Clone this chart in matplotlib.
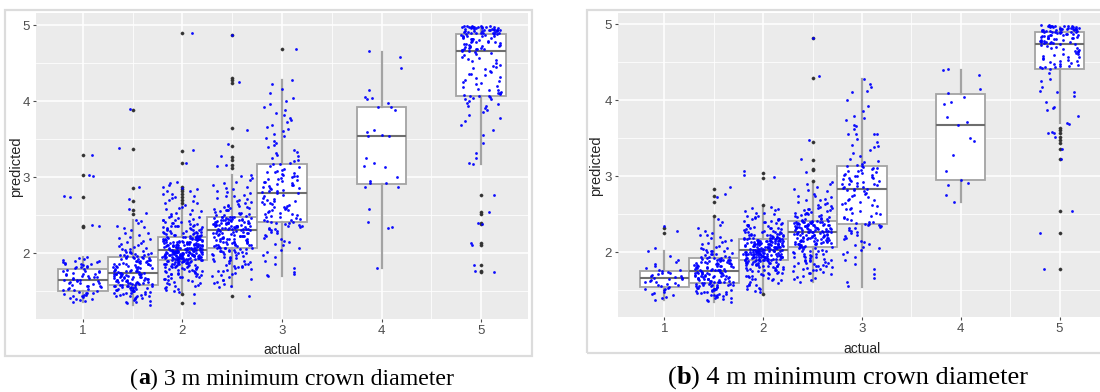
import numpy as np
import matplotlib
matplotlib.use("Agg")
import matplotlib.pyplot as plt
from matplotlib.patches import Rectangle

W, H = 1100, 392

actual_levels = [1, 1.5, 2, 2.5, 3, 4, 5]
x_ticks = [1, 2, 3, 4, 5]
y_ticks = [2, 3, 4, 5]
minor_ticks = [1.5, 2.5, 3.5, 4.5]

# ---------------------------------------------------------------------------
# (a) 3 m minimum crown diameter: predicted values (hundredths) per class
# ---------------------------------------------------------------------------
a_pred_1 = [136, 138, 137, 140, 141, 143, 142, 144, 145, 146, 147, 148, 149, 150, 139, 145, 147,
            151, 152, 153, 154, 155, 156, 157, 158, 159, 160, 161, 162, 163, 164, 153, 157, 160, 163, 165,
            165, 166, 167, 168, 169, 170, 171, 172, 173, 174, 175, 176, 177, 178, 179, 167, 170, 173, 176,
            180, 181, 182, 183, 184, 185, 186, 187, 188, 189, 190, 191, 192, 193, 195, 182, 185, 188,
            329, 303, 302, 274, 275, 237, 235]
a_pred_15 = [132, 134, 135, 137, 138, 140, 141, 142, 143, 144, 144, 145, 146, 146, 147, 148, 148, 149, 150, 150,
             151, 151, 152, 153, 153, 154, 154, 155, 155, 156, 156, 157, 157, 158, 141, 145, 149, 152, 155, 158,
             136, 143, 150, 154, 157,
             158, 159, 159, 160, 160, 161, 161, 162, 162, 163, 163, 164, 164, 165, 165, 166, 166, 167, 167, 168,
             168, 169, 169, 170, 170, 171, 171, 172, 172, 173, 173, 174, 160, 162, 164, 166, 168, 170, 172, 174,
             159, 163, 167, 171, 173,
             174, 175, 175, 176, 176, 177, 178, 178, 179, 180, 180, 181, 182, 182, 183, 184, 184, 185, 186, 186,
             187, 188, 188, 189, 190, 190, 191, 192, 192, 193, 194, 194, 195, 176, 179, 181, 183, 185, 187, 189,
             191, 193, 195, 177, 186,
             195, 196, 197, 197, 198, 199, 200, 200, 201, 202, 203, 204, 205, 206, 208, 210, 212, 214, 216, 218,
             221, 224, 227, 230, 233, 236, 239, 242, 196, 199, 202, 205, 209, 213, 220, 226, 234, 243,
             389, 338, 287, 271, 258, 253]
a_pred_2 = [149, 150, 152, 153, 155, 156, 158, 159, 160, 162, 163, 164, 165, 166, 167, 168, 169, 170, 171, 172,
            172, 173, 174, 175, 175, 176, 177, 177, 178, 178, 179, 180, 180, 181, 181, 182, 182, 183, 183, 184,
            184, 185, 185, 186, 186, 186, 187, 187, 187, 188, 188, 188, 189, 189, 189, 190, 190, 190, 191, 191,
            154, 161, 166, 170, 173, 176, 179, 182, 184, 186, 188, 190, 157, 168, 174, 179, 183, 187, 189, 191,
            191, 191, 192, 192, 192, 193, 193, 193, 193, 194, 194, 194, 194, 195, 195, 195, 195, 196, 196, 196,
            196, 197, 197, 197, 197, 198, 198, 198, 198, 199, 199, 199, 199, 200, 200, 200, 200, 201, 201, 201,
            201, 202, 202, 202, 202, 203, 203, 203, 203, 204, 204, 204, 192, 193, 194, 195, 196, 197, 198, 199,
            200, 201, 202, 203, 192, 194, 196, 198, 200, 202, 204, 193, 195, 197, 199, 201, 203, 196, 199, 202,
            204, 204, 205, 205, 205, 206, 206, 206, 206, 207, 207, 207, 208, 208, 208, 208, 209, 209, 209, 210,
            210, 210, 210, 211, 211, 211, 212, 212, 212, 212, 213, 213, 213, 214, 214, 214, 215, 215, 215, 216,
            216, 216, 217, 217, 217, 218, 218, 218, 219, 219, 219, 220, 220, 220, 221, 221, 205, 207, 209, 211,
            213, 215, 217, 219, 221, 206, 208, 210, 212, 214, 216, 218, 220, 205, 209, 213, 217, 221, 207, 211,
            221, 221, 222, 222, 223, 223, 224, 224, 225, 225, 226, 226, 227, 227, 228, 228, 229, 229, 230, 230,
            231, 232, 232, 233, 234, 234, 235, 236, 236, 237, 238, 239, 240, 241, 242, 243, 244, 245, 246, 248,
            249, 251, 253, 255, 257, 259, 261, 263, 266, 269, 272, 275, 278, 282, 286, 290, 293, 222, 224, 226,
            228, 230, 233, 235, 238, 241, 244, 247, 252, 258, 235,
            489, 336, 319, 292, 287, 284, 281, 278, 274, 270, 266, 146, 134]
a_pred_25 = [155, 157, 160, 162, 164, 166, 168, 170, 172, 174, 176, 178, 179, 180, 181, 182, 183, 184, 185, 186,
             187, 188, 189, 190, 191, 192, 193, 194, 195, 196, 197, 198, 199, 200, 200, 201, 202, 202, 203, 203,
             204, 204, 205, 205, 206, 206, 159, 165, 171, 177, 183, 189, 195, 199, 203,
             206, 207, 208, 209, 210, 210, 211, 212, 213, 214, 214, 215, 216, 217, 218, 218, 219, 220, 221, 222,
             222, 223, 224, 225, 226, 226, 227, 228, 229, 229, 230, 230, 207, 209, 211, 213, 215, 217, 219, 221,
             223, 225, 227, 229, 208, 212, 216, 220, 224, 228, 210, 214, 218, 222, 226,
             230, 231, 231, 232, 232, 233, 233, 234, 234, 235, 235, 236, 236, 237, 237, 238, 238, 239, 239, 240,
             240, 241, 241, 242, 242, 243, 243, 244, 244, 245, 245, 246, 246, 247, 247, 231, 233, 235, 237, 239,
             241, 243, 245, 247, 232, 236, 240, 244, 234, 238, 242, 246, 233, 237, 241,
             247, 248, 249, 250, 251, 252, 253, 254, 255, 256, 257, 258, 259, 260, 261, 262, 263, 265, 267, 269,
             271, 273, 275, 277, 279, 281, 284, 287, 290, 293, 296, 299, 302, 250, 253, 256, 259, 262, 266, 270,
             275, 280, 286, 292, 303,
             487, 425, 343, 327, 316, 314, 143, 362]
a_pred_3 = [170, 171, 172, 175, 180, 185, 190, 195, 198, 201, 204, 207, 210, 212, 214, 216, 218, 220, 222, 224,
            226, 228, 229, 230, 231, 232, 233, 234, 235, 236, 237, 238, 239, 240, 241,
            241, 242, 243, 244, 245, 246, 247, 248, 249, 250, 251, 252, 253, 254, 255, 256, 257, 258, 259, 260,
            261, 262, 263, 264, 265, 266, 267, 268, 269, 270, 271, 273, 275, 277, 279,
            279, 280, 281, 282, 283, 284, 285, 286, 287, 288, 289, 290, 291, 292, 293, 294, 295, 296, 297, 298,
            299, 300, 301, 302, 303, 304, 305, 306, 307, 308, 309, 311, 313, 315, 317,
            317, 319, 321, 323, 325, 327, 329, 331, 333, 336, 339, 342, 345, 348, 351, 354, 357, 360, 363, 366,
            369, 372, 375, 378, 381, 384, 388, 392, 396, 400, 404, 410, 416, 422, 428,
            468]
a_pred_4 = [466, 458, 444, 414, 405, 404, 403, 397, 392, 392, 388, 362, 359, 355, 354, 354, 325, 319, 315, 313,
            300, 295, 292, 292, 287, 287, 258, 241, 234, 233, 180]
a_pred_5 = [488, 488, 489, 489, 490, 490, 490, 491, 491, 491, 492, 492, 492, 493, 493, 493, 494, 494, 494, 495,
            495, 495, 496, 496, 496, 497, 497, 497, 497, 498, 498, 498, 498, 499, 499, 499, 499, 494, 496, 498,
            490, 492, 495, 497, 499,
            466, 467, 468, 469, 470, 471, 472, 473, 474, 475, 476, 477, 478, 479, 480, 481, 482, 483, 484, 485,
            486, 487, 488, 467, 469, 471, 473, 475, 477, 479, 481, 483, 485, 487, 470, 474, 478, 482, 486, 468,
            407, 408, 409, 410, 411, 412, 414, 416, 418, 420, 422, 424, 426, 428, 430, 432, 434, 436, 438, 440,
            442, 444, 446, 448, 450, 452, 454, 456, 458, 460, 462, 464, 466, 410, 415, 425, 435, 445, 455, 463,
            317, 318, 325, 331, 345, 355, 362, 368, 374, 378, 381, 385, 388, 391, 394, 396, 398, 400, 402, 403,
            404, 405, 406, 407, 393,
            276, 254, 239, 238, 213, 210, 184, 177, 175]

# box summaries for (a)
a_q1 = [1.50, 1.58, 1.91, 2.06, 2.41, 2.91, 4.07]
a_median = [1.65, 1.74, 2.04, 2.30, 2.79, 3.54, 4.66]
a_q3 = [1.79, 1.95, 2.21, 2.47, 3.17, 3.92, 4.88]
a_whisker_low = [1.36, 1.32, 1.49, 1.55, 1.70, 1.80, 3.17]
a_whisker_high = [1.95, 2.43, 2.62, 3.03, 4.28, 4.65, 4.98]
a_outliers = [[3.29, 3.03, 2.74, 2.36, 2.34],
              [3.88, 3.37, 2.86, 2.69, 2.57, 2.52],
              [4.89, 3.34, 3.18, 2.87, 2.84, 2.81, 2.78, 2.74, 2.70, 2.66, 1.46, 1.34],
              [4.87, 4.30, 4.28, 4.24, 3.65, 3.41, 3.26, 3.22, 3.16, 3.12, 1.43],
              [4.68],
              [],
              [2.76, 2.54, 2.52, 2.39, 2.38, 2.13, 2.10, 1.84, 1.76, 1.75]]

# ---------------------------------------------------------------------------
# (b) 4 m minimum crown diameter: predicted values (hundredths) per class
# ---------------------------------------------------------------------------
b_pred_1 = [137, 140, 141, 143, 145, 146, 148, 150, 151, 152, 153, 154,
            155, 156, 157, 158, 159, 160, 161, 162, 163, 164, 165, 166,
            166, 167, 168, 169, 170, 171, 172, 173, 174, 175,
            176, 177, 179, 181, 184, 187, 190, 195, 201,
            234, 228, 205]
b_pred_15 = [134, 136, 137, 139, 140, 141, 142, 143, 144, 145, 146, 146, 147, 148, 148, 149, 150, 150, 151, 152,
             152, 153, 153, 154, 155, 155, 156, 156, 157, 157, 158, 158, 159, 159, 138, 142, 145, 149, 151, 154,
             156, 158, 144, 150, 155,
             159, 160, 160, 161, 161, 162, 162, 163, 163, 164, 164, 165, 165, 166, 166, 167, 167, 168, 168, 169,
             169, 170, 170, 171, 171, 172, 172, 173, 173, 174, 174, 175, 160, 162, 164, 166, 168, 170, 172, 174,
             161, 165, 169, 173, 167,
             175, 176, 176, 177, 177, 178, 178, 179, 180, 180, 181, 181, 182, 183, 183, 184, 184, 185, 186, 186,
             187, 187, 188, 189, 189, 190, 190, 191, 191, 192, 176, 178, 180, 182, 184, 186, 188, 190, 192, 177,
             181, 185, 189, 179, 187,
             192, 193, 194, 195, 196, 197, 198, 199, 200, 201, 202, 203, 204, 205, 206, 208, 210, 212, 214, 216,
             218, 220, 222, 225, 228, 231, 235, 239, 244, 194, 197, 201, 205, 213, 223,
             285, 277, 272]
b_pred_2 = [147, 149, 151, 153, 155, 157, 159, 161, 163, 164, 165, 166, 167, 168, 169, 170, 171, 172, 173, 174,
            175, 175, 176, 177, 177, 178, 179, 179, 180, 180, 181, 181, 182, 182, 183, 183, 184, 184, 185, 185,
            186, 186, 187, 187, 188, 188, 188, 189, 189, 189, 190, 190, 152, 158, 163, 168, 172, 176, 180, 183,
            186, 188, 190, 156, 165, 171, 178, 184, 187, 189,
            190, 190, 191, 191, 191, 192, 192, 192, 193, 193, 193, 194, 194, 194, 195, 195, 195, 196, 196, 196,
            197, 197, 197, 198, 198, 198, 199, 199, 199, 200, 200, 200, 201, 201, 201, 202, 202, 202, 203, 203,
            191, 192, 193, 194, 195, 196, 197, 198, 199, 200, 201, 202, 203, 192, 194, 196, 198, 200, 202, 191,
            193, 195, 197, 199, 201, 203, 194, 197, 200, 196,
            203, 204, 204, 205, 205, 206, 206, 207, 207, 208, 208, 209, 209, 210, 210, 211, 211, 212, 212, 213,
            213, 214, 214, 215, 215, 216, 216, 217, 217, 204, 205, 206, 207, 208, 209, 210, 211, 212, 213, 214,
            215, 216, 217, 204, 206, 208, 210, 212, 214, 216, 205, 207, 209, 211, 213, 215, 217, 206, 209, 212,
            215, 204, 208, 211, 214, 217, 210, 207, 213, 205,
            217, 218, 218, 219, 219, 220, 220, 221, 221, 222, 222, 223, 223, 224, 224, 225, 226, 226, 227, 228,
            229, 230, 231, 232, 233, 234, 235, 236, 237, 238, 239, 240, 241, 242, 243, 244, 245, 246, 248, 250,
            252, 254, 256, 258, 218, 220, 222, 224, 226, 228, 230, 232, 234, 236, 238, 241, 244, 247, 251, 255,
            259, 219, 223, 227, 231,
            306, 301, 299]
b_pred_25 = [161, 163, 165, 167, 169, 171, 173, 175, 176, 177, 178, 179, 180, 181, 182, 183, 184, 185, 186, 187,
             188, 189, 190, 191, 192, 193, 194, 195, 196, 197, 198, 199, 200, 201, 202, 203, 204, 205, 206, 207,
             166, 172, 178, 182, 186, 190, 194, 198, 202, 205, 174, 181, 188, 195, 201,
             207, 208, 209, 210, 210, 211, 212, 212, 213, 214, 214, 215, 216, 216, 217, 218, 218, 219, 220, 220,
             221, 222, 222, 223, 224, 224, 225, 226, 226, 208, 210, 212, 214, 216, 218, 220, 222, 224, 209, 213,
             217, 221, 225, 211, 215, 219, 223, 207, 210, 213, 216, 219, 222, 225, 218,
             226, 227, 227, 228, 228, 229, 229, 230, 230, 231, 231, 232, 232, 233, 233, 234, 234, 235, 235, 236,
             236, 237, 237, 238, 238, 239, 239, 240, 240, 241, 227, 229, 231, 233, 235, 237, 239, 241, 228, 230,
             232, 234, 236, 238, 240, 226, 229, 232, 235, 238, 241, 230, 234, 237, 240,
             241, 242, 243, 244, 245, 246, 247, 248, 249, 250, 251, 252, 253, 254, 255, 256, 257, 258, 260, 262,
             264, 266, 268, 270, 272, 274, 277, 280, 283, 286, 289, 292, 243, 246, 249, 252, 255, 259, 263, 268,
             274, 282, 290, 250, 258,
             482, 432, 348, 322, 305]
b_pred_3 = [155, 160, 166, 171, 178, 184, 190, 193, 197, 200, 203, 205, 207, 209, 211, 213, 215, 217, 219, 221,
            223, 225, 226, 228, 229, 231, 232, 233, 234, 235, 236, 237,
            237, 238, 240, 242, 244, 246, 248, 250, 252, 254, 256, 258, 260, 262, 264, 266, 268, 270, 272, 274,
            276, 278, 280, 282, 283, 239, 245, 251, 257, 263, 269, 275, 281,
            283, 284, 285, 286, 287, 288, 289, 290, 291, 292, 293, 294, 295, 296, 297, 298, 299, 300, 301, 302,
            303, 304, 305, 306, 307, 308, 309, 310, 311, 312, 313, 290, 300,
            313, 315, 316, 318, 320, 323, 326, 330, 334, 338, 339, 341, 345, 349, 355, 355, 355, 355, 362, 366,
            367, 374, 376, 379, 385, 392, 400, 410, 412, 417, 421, 428]
b_pred_4 = [441, 433, 414, 409, 395, 397, 378, 371, 367, 350, 346, 328, 307, 295, 288, 291, 275, 266, 440, 404]
b_pred_5 = [489, 489, 490, 490, 490, 491, 491, 491, 492, 492, 492, 493, 493, 493, 494, 494, 494, 495, 495, 495,
            496, 496, 496, 497, 497, 497, 498, 498, 498, 499, 499, 490, 492, 494, 496, 498, 491, 493, 495, 497,
            474, 475, 475, 476, 477, 478, 478, 479, 480, 481, 481, 482, 483, 484, 484, 485, 486, 487, 487, 488,
            489, 475, 477, 479, 481, 483, 485, 487, 476, 480, 484, 488, 478, 482, 486,
            441, 442, 443, 444, 445, 446, 448, 450, 452, 454, 456, 458, 460, 462, 464, 466, 468, 470, 472, 474,
            443, 447, 451, 455, 459, 463, 467, 471, 445, 453, 461, 469, 449, 457, 465,
            428, 411, 411, 412, 417, 391, 389, 387, 379, 370, 425, 436, 405, 398,
            368, 358, 357, 357, 352, 336, 322, 254, 225, 178]

# box summaries for (b)
b_q1 = [1.54, 1.59, 1.90, 2.07, 2.37, 2.95, 4.41]
b_median = [1.66, 1.75, 2.03, 2.26, 2.83, 3.67, 4.74]
b_q3 = [1.75, 1.92, 2.17, 2.41, 3.13, 4.08, 4.89]
b_whisker_low = [1.37, 1.34, 1.47, 1.61, 1.54, 2.66, 3.70]
b_whisker_high = [2.01, 2.44, 2.59, 2.92, 4.28, 4.39, 4.96]
b_outliers = [[2.32, 2.25],
              [2.83, 2.74, 2.66, 2.47],
              [3.04, 2.97, 2.62, 1.45],
              [4.82, 4.29, 3.45, 3.21, 3.09, 3.08, 2.93],
              [],
              [],
              [3.63, 3.60, 3.56, 3.52, 3.48, 3.43, 3.35, 3.22, 2.54, 2.25, 1.78]]

a_groups = [a_pred_1, a_pred_15, a_pred_2, a_pred_25, a_pred_3, a_pred_4, a_pred_5]
b_groups = [b_pred_1, b_pred_15, b_pred_2, b_pred_25, b_pred_3, b_pred_4, b_pred_5]

plt.rcParams["font.family"] = ["Liberation Sans", "DejaVu Sans"]

PANEL_BG = "#EBEBEB"
BOX_EDGE = "#A3A3A3"
MEDIAN = "#6E6E6E"


def jitter(n, seed):
    """Horizontal spread of +/-0.2 around the class position (hash sequence)."""
    k = np.arange(1, n + 1)
    h = np.abs(np.sin(k * 12.9898 + seed * 78.233) * 43758.5453) % 1.0
    return (h - 0.5) * 0.4


def draw_panel(ax, groups, q1, med, q3, lo, hi, outliers, ylim):
    ax.set_facecolor(PANEL_BG)
    stats = []
    for i in range(len(actual_levels)):
        stats.append(dict(q1=q1[i], med=med[i], q3=q3[i], whislo=lo[i], whishi=hi[i],
                          fliers=np.array(outliers[i], dtype=float)))
    ax.bxp(stats, positions=actual_levels, widths=0.5, patch_artist=True, showcaps=False,
           manage_ticks=False,
           boxprops=dict(facecolor="white", edgecolor=BOX_EDGE, linewidth=1.3),
           whiskerprops=dict(color=BOX_EDGE, linewidth=1.6),
           medianprops=dict(color=MEDIAN, linewidth=1.5),
           flierprops=dict(marker="o", markersize=2.3, markerfacecolor="#333333",
                           markeredgecolor="#333333", markeredgewidth=0.3))
    for i, (pos, vals) in enumerate(zip(actual_levels, groups)):
        y = np.asarray(vals, dtype=float) / 100.0
        x = pos + jitter(len(y), i + 1)
        ax.scatter(x, y, s=4.0, color="#0000FF", linewidths=0, alpha=0.95, zorder=4)

    ax.set_xlim(0.53, 5.47)
    ax.set_ylim(*ylim)
    ax.set_xticks(x_ticks)
    ax.set_yticks(y_ticks)
    ax.set_xticks(minor_ticks, minor=True)
    ax.set_yticks(minor_ticks, minor=True)
    ax.set_axisbelow(True)
    ax.grid(which="major", color="white", linewidth=1.1)
    ax.grid(which="minor", color="white", linewidth=0.55)
    for s in ax.spines.values():
        s.set_visible(False)
    ax.tick_params(which="major", length=2.5, width=0.8, color="#4D4D4D",
                   labelcolor="#4D4D4D", labelsize=9.5, pad=2)
    ax.tick_params(which="minor", length=0)


fig = plt.figure(figsize=(W / 100, H / 100), dpi=100, facecolor="white")


def px_axes(left, right, top, bottom):
    return fig.add_axes([left / W, 1 - bottom / H, (right - left) / W, (bottom - top) / H])


# outer frames around each plot
fig.add_artist(Rectangle((5 / W, 1 - 356 / H), (532 - 5) / W, (356 - 10) / H,
                         transform=fig.transFigure, fill=False, edgecolor="#DCDCDC", linewidth=1.6))
fig.add_artist(Rectangle((587 / W, 1 - 353 / H), (1120 - 587) / W, (353 - 10) / H,
                         transform=fig.transFigure, fill=False, edgecolor="#DCDCDC", linewidth=1.6))

ax_a = px_axes(36, 528, 13, 319)
draw_panel(ax_a, a_groups, a_q1, a_median, a_q3, a_whisker_low, a_whisker_high, a_outliers, (1.132, 5.158))
ax_b = px_axes(618, 1106, 13, 317)
draw_panel(ax_b, b_groups, b_q1, b_median, b_q3, b_whisker_low, b_whisker_high, b_outliers, (1.145, 5.145))

# axis titles
for cx, cy in [(16, 167), (596, 166)]:
    fig.text(cx / W, 1 - cy / H, "predicted", rotation=90, ha="center", va="center",
             fontsize=10.5, color="#262626")
for cx, cy in [(282, 350), (862, 349)]:
    fig.text(cx / W, 1 - cy / H, "actual", ha="center", va="center", fontsize=10, color="#262626")


def caption(cx, cy, letter, rest, size):
    parts = [("(", "normal"), (letter, "bold"), (rest, "normal")]
    texts = [fig.text(0, 1 - cy / H, s, ha="left", va="center", fontsize=size, fontweight=w,
                      family=["Liberation Serif", "DejaVu Serif"], color="black")
             for s, w in parts]
    fig.canvas.draw()
    r = fig.canvas.get_renderer()
    widths = [t.get_window_extent(r).width for t in texts]
    x = cx - sum(widths) / 2
    for t, w in zip(texts, widths):
        t.set_x(x / W)
        x += w


caption(292, 379, "a", ") 3 m minimum crown diameter", 17.2)
caption(848, 378, "b", ") 4 m minimum crown diameter", 19.0)

fig.savefig("out.png", dpi=100, facecolor="white")
